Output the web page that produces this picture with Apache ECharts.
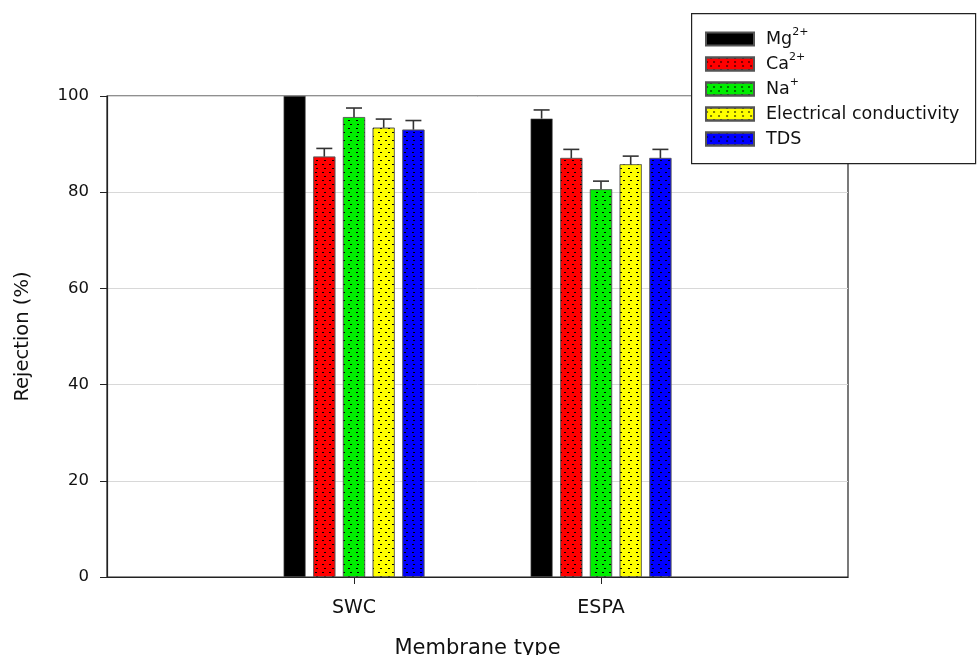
<!DOCTYPE html>
<html><head><meta charset="utf-8">
<script src="https://cdn.jsdelivr.net/npm/echarts@6/dist/echarts.min.js"></script>
<style>html,body{margin:0;padding:0;background:#fff;overflow:hidden}#c{width:977px;height:655px}</style>
</head><body><div id="c"></div>
<script>
// ---- data ----
var categories = ['', 'SWC', 'ESPA', ''];
var seriesNames = ['Mg2+', 'Ca2+', 'Na+', 'Electrical conductivity', 'TDS'];
var legendRich = ['{b|Mg}{s|2+}', '{b|Ca}{s|2+}', '{b|Na}{s|+}', '{b|Electrical conductivity}', '{b|TDS}'];
var colors = ['#000000', '#ff0000', '#00ee00', '#ffff00', '#0000ff'];
// values for SWC, ESPA
var mgVals  = [100.0, 95.3];
var caVals  = [87.4, 87.1];
var naVals  = [95.6, 80.6];
var ecVals  = [93.4, 85.8];
var tdsVals = [93.0, 87.1];
// error (+) for SWC, ESPA
var mgErr  = [null, 1.8];
var caErr  = [1.7, 1.8];
var naErr  = [1.9, 1.7];
var ecErr  = [1.8, 1.7];
var tdsErr = [1.9, 1.8];
var yTicks = [0, 20, 40, 60, 80, 100];

var allVals = [mgVals, caVals, naVals, ecVals, tdsVals];
var allErr = [mgErr, caErr, naErr, ecErr, tdsErr];

var FONT = 'DejaVu Sans';
var BAR_W = 22, BAR_GAP = 0.35;
var pitch = BAR_W * (1 + BAR_GAP);

var dotDecal = {
  symbol: 'rect', symbolSize: 1, color: '#000',
  dashArrayX: [[2, 5], [0, 3.5, 2, 1.5]],
  dashArrayY: [1, 2.4], rotation: 0
};

var series = [];
seriesNames.forEach(function (n, k) {
  var vals = allVals[k];
  var st = { color: colors[k], borderColor: '#555', borderWidth: 0.6 };
  if (k > 0) st.decal = dotDecal;
  series.push({
    name: n, type: 'bar', barWidth: BAR_W, barGap: (BAR_GAP * 100) + '%',
    itemStyle: st,
    data: ['-', vals[0], vals[1], '-'],
    z: 2
  });
});
seriesNames.forEach(function (n, k) {
  var vals = allVals[k], errs = allErr[k];
  var d = [];
  [1, 2].forEach(function (ci, j) {
    if (errs[j] != null) d.push([ci, vals[j], errs[j]]);
  });
  var off = (k - 2) * pitch;
  series.push({
    name: 'err_' + k, type: 'custom', z: 3, silent: true,
    renderItem: function (params, api) {
      var c = api.value(0), v = api.value(1), e = api.value(2);
      var p0 = api.coord([c, v]);
      var p1 = api.coord([c, v + e]);
      var x = p0[0] + off;
      var st = { stroke: '#333', lineWidth: 1.6 };
      return { type: 'group', children: [
        { type: 'line', shape: { x1: x, y1: p0[1], x2: x, y2: p1[1] }, style: st },
        { type: 'line', shape: { x1: x - 8, y1: p1[1], x2: x + 8, y2: p1[1] }, style: st }
      ]};
    },
    data: d
  });
});

var chart = echarts.init(document.getElementById('c'), null, { renderer: 'canvas', width: 977, height: 655 });
chart.setOption({
  backgroundColor: '#fff',
  animation: false,
  textStyle: { fontFamily: FONT },
  grid: { left: 107, width: 741, top: 96, height: 481, outerBoundsMode: 'none', containLabel: false,
    show: true, borderColor: '#222', borderWidth: 1.2, backgroundColor: 'transparent' },
  xAxis: {
    type: 'category', data: categories, boundaryGap: false,
    axisLine: { lineStyle: { color: '#222', width: 1.2 } },
    axisTick: { length: 7, lineStyle: { color: '#222' }, interval: function (i, v) { return v !== ''; } },
    axisLabel: { fontSize: 19, color: '#111', margin: 22, fontFamily: FONT },
    splitLine: { show: false },
    name: 'Membrane type', nameLocation: 'middle', nameGap: 61,
    nameTextStyle: { fontSize: 21, color: '#111', fontFamily: FONT }
  },
  yAxis: {
    type: 'value', min: 0, max: 100, interval: 20,
    axisLine: { show: true, lineStyle: { color: '#222', width: 1.2 } },
    axisTick: { show: true, length: 7, lineStyle: { color: '#222' } },
    axisLabel: { fontSize: 16.5, color: '#111', margin: 18, fontFamily: FONT,
      formatter: function (v) { return yTicks.indexOf(v) >= 0 ? String(v) : ''; } },
    splitLine: { show: true, lineStyle: { color: '#d8d8d8', width: 1 } },
    name: 'Rejection (%)', nameLocation: 'middle', nameGap: 74,
    nameTextStyle: { fontSize: 19.5, color: '#111', fontFamily: FONT }
  },
  graphic: [{
    type: 'rect', left: 691, top: 13, z: 10,
    shape: { width: 284, height: 150 },
    style: { fill: '#fff', stroke: '#222', lineWidth: 1.2 }
  }],
  legend: {
    data: seriesNames, left: 705, top: 27, orient: 'vertical', z: 20,
    itemWidth: 48, itemHeight: 13, itemGap: 1, padding: 0, icon: 'rect',
    formatter: function (name) { return legendRich[seriesNames.indexOf(name)]; },
    textStyle: {
      color: '#111', fontFamily: FONT, height: 24, lineHeight: 24,
      rich: {
        b: { fontSize: 17.5, lineHeight: 24, height: 24, fontFamily: FONT, color: '#111', padding: [0, 0, 0, 7] },
        s: { fontSize: 11, lineHeight: 12, verticalAlign: 'top', fontFamily: FONT, color: '#111' }
      }
    }
  },
  series: series
});
</script></body></html>
